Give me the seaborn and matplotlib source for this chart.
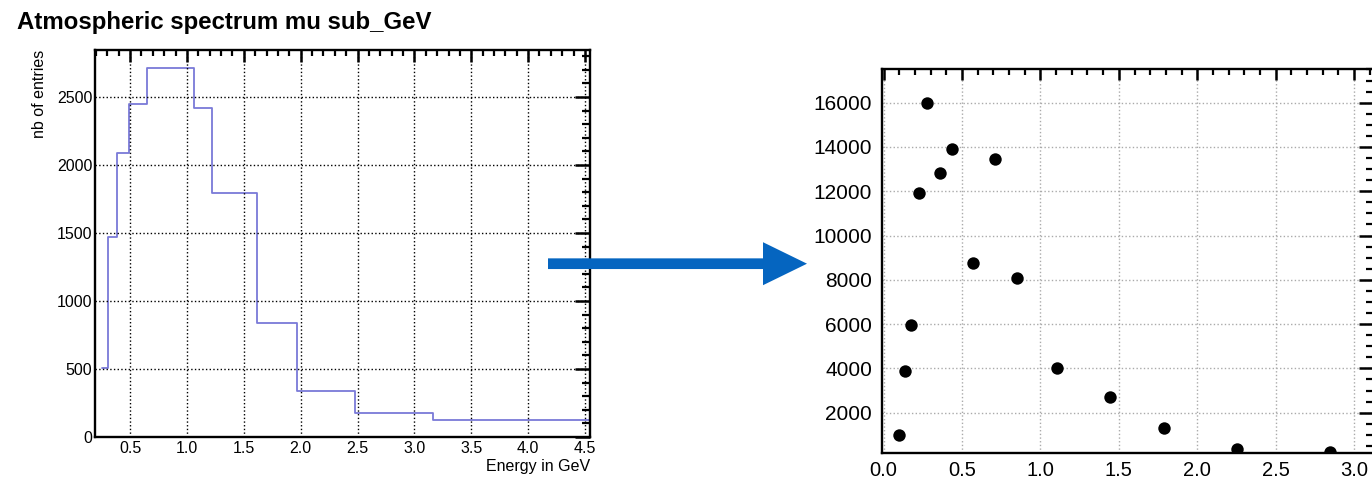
import numpy as np
import pandas as pd
import matplotlib
matplotlib.use('Agg')
import matplotlib.pyplot as plt
from matplotlib.ticker import MultipleLocator
from matplotlib.patches import FancyArrow
import seaborn as sns

# histogram (left): bin edges in GeV and entries per bin
bin_edges = [0.251, 0.304, 0.383, 0.494, 0.652, 1.066, 1.221, 1.614, 1.965, 2.478, 3.167, 4.6]
bin_counts = [505, 1468, 2086, 2449, 2711, 2421, 1796, 836, 338, 179, 125]

# points (right)
energy = [0.099, 0.135, 0.177, 0.226, 0.279, 0.357, 0.436, 0.569, 0.712, 0.852,
          1.106, 1.445, 1.789, 2.251, 2.849]
flux = [993, 3897, 5961, 11935, 16000, 12838, 13894, 8747, 13443, 8069,
        4005, 2723, 1323, 361, 239]

sns.set_theme(style="white")
plt.rcParams['font.family'] = ['Liberation Sans', 'DejaVu Sans']
plt.rcParams['text.color'] = 'black'

W, H = 1372, 486
fig = plt.figure(figsize=(W / 100, H / 100), dpi=100)


def px_axes(x0, y0, x1, y1):
    return fig.add_axes([x0 / W, 1 - y1 / H, (x1 - x0) / W, (y1 - y0) / H])


def root_style(ax, grid_color, lsize_y, lsize_x, ymaj, ymin_len, xmaj, xmin_len, ypad, xpad):
    for s in ax.spines.values():
        s.set_linewidth(1.7)
        s.set_color('black')
    ax.tick_params(which='both', direction='in', top=True, right=True, colors='black')
    ax.tick_params(axis='y', which='major', length=ymaj, width=1.8, labelsize=lsize_y, pad=ypad)
    ax.tick_params(axis='y', which='minor', length=ymin_len, width=1.6)
    ax.tick_params(axis='x', which='major', length=xmaj, width=1.8, labelsize=lsize_x, pad=xpad)
    ax.tick_params(axis='x', which='minor', length=xmin_len, width=1.6)
    ax.grid(True, which='major', linestyle=':', color=grid_color, linewidth=1.0)
    ax.set_xlabel('')
    ax.set_ylabel('')


# ---- left: ROOT-like histogram
ax1 = px_axes(95, 50, 590, 437)
centers = [(a + b) / 2 for a, b in zip(bin_edges[:-1], bin_edges[1:])]
sns.histplot(x=centers, weights=bin_counts, bins=bin_edges, element='step', fill=False,
             color='#7a7ad8', linewidth=1.3, ax=ax1)
ax1.set_xlim(0.192, 4.544)
ax1.set_ylim(0, 2846)
ax1.xaxis.set_major_locator(MultipleLocator(0.5))
ax1.xaxis.set_minor_locator(MultipleLocator(0.1))
ax1.yaxis.set_major_locator(MultipleLocator(500))
ax1.yaxis.set_minor_locator(MultipleLocator(100))
ax1.xaxis.set_major_formatter(matplotlib.ticker.FormatStrFormatter('%.1f'))
root_style(ax1, 'black', 11.5, 11.5, 10.5, 5.5, 8.5, 4, 2, 3)
ax1.set_axisbelow(False)

fig.text(17 / W, 1 - 22 / H, 'Atmospheric spectrum mu sub_GeV', fontsize=17.3,
         fontweight='bold', ha='left', va='center')
fig.text(40 / W, 1 - 50 / H, 'nb of entries', rotation=90, fontsize=11.5,
         ha='center', va='top')
fig.text(590 / W, 1 - 466 / H, 'Energy in GeV', fontsize=11.5, ha='right', va='center')

# ---- right: scatter
ax2 = px_axes(881.7, 69, 1374, 452.7)
df = pd.DataFrame({'energy': energy, 'flux': flux})
sns.scatterplot(data=df, x='energy', y='flux', color='black', s=80, edgecolor='black',
                linewidth=0, ax=ax2, zorder=3)
ax2.set_xlim(-0.012, 3.127)
ax2.set_ylim(194, 17520)
ax2.xaxis.set_major_locator(MultipleLocator(0.5))
ax2.xaxis.set_minor_locator(MultipleLocator(0.1))
ax2.yaxis.set_major_locator(MultipleLocator(2000))
ax2.yaxis.set_minor_locator(MultipleLocator(500))
ax2.yaxis.set_major_formatter(matplotlib.ticker.FuncFormatter(lambda v, p: '' if v <= 0 else f'{int(v)}'))
ax2.xaxis.set_major_formatter(matplotlib.ticker.FormatStrFormatter('%.1f'))
root_style(ax2, '#aaaaaa', 15, 14.5, 11, 6, 8, 4, 7, 6)

# ---- arrow between the panels
arrow = FancyArrow(5.48, (H - 263.7) / 100, 8.07 - 5.48, 0, width=0.107,
                   head_width=0.43, head_length=0.44, length_includes_head=True,
                   color='#0565c0', linewidth=0, transform=fig.dpi_scale_trans)
fig.add_artist(arrow)

fig.savefig('out.png', dpi=100)
